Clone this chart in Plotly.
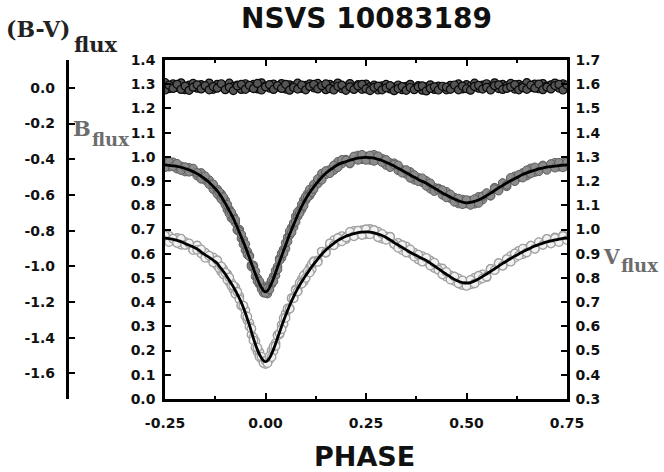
import plotly.graph_objects as go

# ---------------- data ----------------
phase = [-0.25, -0.24, -0.23, -0.22, -0.21, -0.20, -0.19, -0.18, -0.17, -0.16, -0.15, -0.14, -0.13, -0.12,
         -0.115, -0.11, -0.105, -0.10, -0.095, -0.09, -0.085, -0.08, -0.075, -0.07, -0.065, -0.06, -0.055,
         -0.05, -0.045, -0.04, -0.035, -0.03, -0.025, -0.02, -0.015, -0.01, -0.005,
         0.0, 0.005, 0.01, 0.015, 0.02, 0.025, 0.03, 0.035, 0.04, 0.045, 0.05, 0.055, 0.06, 0.065, 0.07,
         0.075, 0.08, 0.085, 0.09, 0.095, 0.10, 0.105, 0.11, 0.115,
         0.12, 0.13, 0.14, 0.15, 0.16, 0.17, 0.18, 0.19, 0.20, 0.21, 0.22, 0.23, 0.24, 0.25, 0.26, 0.27,
         0.28, 0.29, 0.30, 0.31, 0.32, 0.33, 0.34, 0.35, 0.36, 0.37, 0.38, 0.39, 0.40, 0.41, 0.42, 0.43,
         0.44, 0.45, 0.46, 0.47, 0.48, 0.49, 0.50, 0.51, 0.52, 0.53, 0.54, 0.55, 0.56, 0.57, 0.58, 0.59,
         0.60, 0.61, 0.62, 0.63, 0.64, 0.65, 0.66, 0.67, 0.68, 0.69, 0.70, 0.71, 0.72, 0.73, 0.74, 0.75]

# B flux: fitted light curve and observations (left axis)
b_fit = [.967, .965, .963, .961, .957, .952, .946, .939, .930, .920, .908, .894, .878, .860,
         .848, .836, .822, .808, .793, .778, .762, .746, .727, .708, .688, .668, .648, .628, .606, .583,
         .560, .538, .516, .495, .476, .460, .447,
         .442, .447, .460, .478, .498, .521, .545, .568, .590, .613, .635, .658, .680, .700, .720, .740,
         .760, .778, .795, .811, .826, .840, .853, .865,
         .876, .897, .916, .932, .945, .957, .967, .975, .980, .986, .991, .995, .997, .998, .997, .995,
         .990, .985, .978, .970, .962, .953, .944, .935, .925, .916, .907, .899, .891, .881, .871, .861,
         .851, .842, .834, .826, .819, .813, .810, .812, .816, .822, .830, .840, .850, .861, .872, .882,
         .892, .901, .910, .919, .927, .934, .940, .945, .950, .954, .958, .960, .962, .964, .966, .967]

b_obs = [.979, .959, .978, .951, .961, .939, .955, .941, .922, .934, .904, .904, .866, .866,
         .839, .847, .819, .821, .782, .783, .748, .754, .728, .701, .700, .663, .658, .615, .609, .592,
         .554, .552, .506, .499, .474, .471, .439,
         .449, .435, .473, .474, .507, .510, .547, .580, .583, .618, .621, .668, .677, .708, .710, .754,
         .754, .781, .783, .822, .821, .849, .840, .871,
         .886, .889, .931, .927, .947, .945, .980, .972, .989, .972, .997, 1.006, .990, 1.002, .987, 1.009,
         .988, .993, .966, .975, .974, .944, .947, .929, .938, .905, .914, .895, .901, .868, .873, .870,
         .843, .856, .829, .832, .807, .824, .807, .820, .806, .835, .823, .844, .839, .873, .866, .891,
         .878, .906, .920, .915, .934, .922, .953, .937, .953, .965, .949, .966, .976, .959, .976, .963]

b_obs2 = [.957, .979, .960, .972, .945, .958, .938, .952, .934, .909, .920, .887, .887, .847,
          .855, .826, .834, .802, .803, .766, .771, .741, .740, .697, .692, .679, .639, .640, .596, .589,
          .547, .546, .528, .486, .486, .454, .456,
          .438, .457, .452, .490, .486, .530, .535, .573, .602, .602, .645, .650, .693, .688, .727, .731,
          .772, .768, .803, .798, .836, .834, .865, .854,
          .867, .909, .905, .942, .932, .965, .957, .988, .985, .974, 1.002, .987, 1.009, .987, 1.006, .983,
          1.003, .978, .988, .957, .968, .965, .934, .946, .913, .925, .899, .912, .880, .891, .858, .866,
          .863, .832, .845, .814, .828, .804, .822, .801, .826, .809, .838, .851, .840, .867, .860, .892,
          .884, .914, .899, .926, .914, .945, .931, .957, .940, .962, .946, .971, .955, .976, .956, .976]

# V flux: fitted light curve and observations (right axis)
v_fit = [.965, .962, .959, .955, .950, .942, .935, .928, .920, .907, .895, .885, .873, .860,
         .848, .838, .827, .816, .803, .790, .777, .763, .748, .732, .716, .698, .677, .655, .630, .605,
         .578, .550, .525, .503, .484, .469, .458,
         .454, .458, .469, .485, .505, .528, .552, .576, .600, .623, .645, .666, .686, .705, .723, .740,
         .756, .770, .784, .797, .810, .822, .834, .846,
         .857, .878, .898, .915, .930, .943, .955, .964, .972, .978, .983, .987, .989, .990, .989, .986,
         .981, .975, .967, .957, .946, .936, .926, .916, .906, .897, .888, .880, .872, .861, .850, .838,
         .826, .815, .804, .794, .786, .781, .779, .781, .787, .796, .806, .816, .827, .838, .849, .860,
         .870, .880, .890, .899, .908, .916, .924, .932, .938, .944, .949, .953, .957, .960, .963, .965]

v_obs = [.957, .974, .955, .965, .937, .949, .937, .917, .934, .901, .904, .882, .885, .851,
         .853, .826, .837, .812, .816, .783, .780, .753, .762, .730, .724, .685, .683, .666, .625, .614,
         .566, .554, .538, .495, .494, .466, .464,
         .444, .469, .464, .499, .498, .530, .564, .567, .606, .610, .653, .669, .675, .715, .719, .753,
         .748, .775, .795, .785, .817, .820, .843, .836,
         .869, .872, .908, .904, .934, .956, .948, .973, .960, .984, .994, .983, .997, .980, 1.002, .983,
         .991, .962, .972, .969, .940, .945, .915, .930, .902, .904, .876, .890, .867, .872, .841, .842,
         .839, .805, .810, .787, .798, .770, .782, .773, .801, .791, .815, .803, .837, .835, .861, .851,
         .875, .891, .883, .912, .898, .920, .933, .920, .945, .940, .961, .944, .967, .954, .976, .962]

v_obs2 = [.975, .948, .962, .944, .962, .936, .943, .915, .916, .918, .883, .892, .864, .873,
          .841, .848, .815, .822, .793, .802, .768, .768, .735, .743, .712, .687, .686, .643, .640, .599,
          .591, .542, .513, .512, .474, .475, .449,
          .458, .448, .477, .473, .517, .519, .562, .571, .588, .634, .635, .674, .673, .717, .716, .749,
          .744, .780, .776, .810, .800, .828, .822, .857,
          .866, .866, .909, .905, .943, .935, .965, .951, .967, .990, .972, .995, .977, 1.001, .980, .998,
          .968, .982, .957, .970, .940, .924, .936, .905, .918, .888, .896, .867, .883, .851, .863, .833,
          .814, .825, .793, .806, .777, .790, .767, .792, .777, .809, .798, .805, .837, .832, .861, .850,
          .878, .867, .901, .892, .921, .905, .933, .920, .948, .936, .961, .942, .964, .948, .973, .956]

# (B-V) flux colour index (far-left axis), two overlapping measurement rows
bv_phase = [-0.25, -0.24, -0.23, -0.22, -0.21, -0.20, -0.19, -0.18, -0.17, -0.16,
            -0.15, -0.14, -0.13, -0.12, -0.11, -0.10, -0.09, -0.08, -0.07, -0.06,
            -0.05, -0.04, -0.03, -0.02, -0.01, 0.00, 0.01, 0.02, 0.03, 0.04,
            0.05, 0.06, 0.07, 0.08, 0.09, 0.10, 0.11, 0.12, 0.13, 0.14,
            0.15, 0.16, 0.17, 0.18, 0.19, 0.20, 0.21, 0.22, 0.23, 0.24,
            0.25, 0.26, 0.27, 0.28, 0.29, 0.30, 0.31, 0.32, 0.33, 0.34,
            0.35, 0.36, 0.37, 0.38, 0.39, 0.40, 0.41, 0.42, 0.43, 0.44,
            0.45, 0.46, 0.47, 0.48, 0.49, 0.50, 0.51, 0.52, 0.53, 0.54,
            0.55, 0.56, 0.57, 0.58, 0.59, 0.60, 0.61, 0.62, 0.63, 0.64,
            0.65, 0.66, 0.67, 0.68, 0.69, 0.70, 0.71, 0.72, 0.73, 0.74, 0.75]
bv_a = [0.030, -0.005, 0.022, 0.002, 0.028, -0.010, 0.015, 0.025, -0.002, 0.018,
        0.006, 0.027, -0.008, 0.020, 0.012, -0.004, 0.026, 0.008, 0.016, -0.009,
        0.023, 0.003, 0.019, -0.006, 0.028, 0.010, -0.001, 0.021, 0.005, 0.024,
        -0.007, 0.017, 0.011, 0.026, -0.003, 0.014, 0.022, 0.000, 0.025, 0.007,
        -0.010, 0.020, 0.013, 0.027, -0.005, 0.009, 0.024, 0.002, 0.018, -0.008,
        0.021, 0.006, 0.015, -0.012, 0.011, 0.019, -0.006, 0.004, 0.016, -0.010,
        0.008, 0.020, -0.004, 0.012, -0.013, 0.006, 0.017, -0.009, 0.010, 0.001,
        -0.011, 0.014, 0.004, 0.022, -0.006, 0.018, 0.009, 0.026, -0.002, 0.015,
        0.023, 0.005, 0.028, -0.004, 0.019, 0.011, 0.025, -0.007, 0.020, 0.013,
        0.029, 0.002, 0.021, -0.005, 0.024, 0.010, 0.017, 0.027, -0.001, 0.022, 0.008]
bv_b = [-0.012, 0.015, -0.003, 0.020, -0.009, 0.010, -0.014, 0.004, 0.017, -0.006,
        0.012, -0.011, 0.007, -0.002, 0.023, -0.010, 0.003, -0.015, 0.011, 0.019,
        -0.008, 0.014, -0.004, 0.025, -0.012, 0.006, 0.018, -0.009, 0.013, -0.003,
        0.020, -0.013, 0.002, -0.007, 0.016, -0.011, 0.008, 0.019, -0.006, 0.012,
        0.022, -0.004, -0.012, 0.009, 0.015, -0.014, 0.005, -0.009, 0.011, 0.020,
        -0.006, -0.015, 0.003, 0.010, -0.011, 0.000, 0.012, -0.016, -0.004, 0.007,
        -0.014, 0.002, -0.010, 0.005, 0.011, -0.017, -0.003, 0.006, -0.012, 0.009,
        0.004, -0.008, 0.016, -0.011, 0.010, -0.005, -0.013, 0.008, 0.014, -0.007,
        0.003, -0.012, 0.012, 0.017, -0.009, -0.003, 0.006, 0.018, -0.011, 0.001,
        -0.008, 0.015, -0.002, 0.021, -0.010, 0.004, -0.006, 0.013, 0.019, -0.012, 0.016]

x_tickvals = [-0.25, 0.0, 0.25, 0.50, 0.75]
x_ticktext = ["-0.25", "0.00", "0.25", "0.50", "0.75"]
bv_tickvals = [0.0, -0.2, -0.4, -0.6, -0.8, -1.0, -1.2, -1.4, -1.6]
bv_ticktext = ["0.0", "-0.2", "-0.4", "-0.6", "-0.8", "-1.0", "-1.2", "-1.4", "-1.6"]

assert len(phase) == len(b_fit) == len(b_obs) == len(b_obs2) == len(v_fit) == len(v_obs) == len(v_obs2), \
    (len(phase), len(b_fit), len(b_obs), len(b_obs2), len(v_fit), len(v_obs), len(v_obs2))
assert len(bv_phase) == len(bv_a) == len(bv_b), (len(bv_phase), len(bv_a), len(bv_b))

# ---------------- figure ----------------
W, H = 664, 472
ML, MR, MT, MB = 60, 97, 60, 73
PW, PH = W - ML - MR, H - MT - MB


def px(x):
    return (x - ML) / PW


def py(y):
    return (H - MB - y) / PH


SANS = "DejaVu Sans"
SERIF = "DejaVu Serif"
tickfont = dict(family=SANS, size=14, color="#111111", weight="bold")

fig = go.Figure()

fig.add_trace(go.Scatter(
    x=bv_phase + bv_phase, y=bv_a + bv_b, yaxis="y3", mode="markers",
    marker=dict(size=8, color="#555555", line=dict(color="#0a0a0a", width=1.2)),
    showlegend=False, hoverinfo="skip"))

fig.add_trace(go.Scatter(
    x=phase + phase, y=b_obs + b_obs2, yaxis="y", mode="markers",
    marker=dict(size=8.5, color="#8c8c8c", line=dict(color="#5e5e5e", width=1)),
    showlegend=False, hoverinfo="skip"))

fig.add_trace(go.Scatter(
    x=phase + phase, y=v_obs + v_obs2, yaxis="y2", mode="markers",
    marker=dict(size=8.5, color="#f2f2f2", line=dict(color="#a0a0a0", width=1.3)),
    showlegend=False, hoverinfo="skip"))

fig.add_trace(go.Scatter(
    x=phase, y=b_fit, yaxis="y", mode="lines",
    line=dict(color="#000000", width=2.8, shape="spline", smoothing=0.6),
    showlegend=False, hoverinfo="skip"))

fig.add_trace(go.Scatter(
    x=phase, y=v_fit, yaxis="y2", mode="lines",
    line=dict(color="#000000", width=2.8, shape="spline", smoothing=0.6),
    showlegend=False, hoverinfo="skip"))

axis_common = dict(showgrid=False, zeroline=False, showline=True, linecolor="#000000",
                   ticks="inside", tickcolor="#000000", tickwidth=2, tickfont=tickfont)

fig.update_layout(
    width=W, height=H,
    margin=dict(l=ML, r=MR, t=MT, b=MB),
    paper_bgcolor="white", plot_bgcolor="white",
    xaxis=dict(domain=[px(165), 1.0], range=[-0.25, 0.75], tickmode="array",
               tickvals=x_tickvals, ticktext=x_ticktext, ticklen=6, linewidth=2.5,
               mirror="ticks", ticklabelstandoff=9,
               minor=dict(ticks="inside", ticklen=3, tickwidth=1.5, tickcolor="#000000",
                          tick0=-0.25, dtick=0.125),
               **axis_common),
    yaxis=dict(range=[0.0, 1.4], tick0=0.0, dtick=0.1, tickformat=".1f", ticklen=6,
               linewidth=2.5, anchor="x", ticklabelstandoff=4, **axis_common),
    yaxis2=dict(range=[0.3, 1.7], tick0=0.3, dtick=0.1, tickformat=".1f", ticklen=6,
                linewidth=2.5, overlaying="y", side="right", anchor="x", ticklabelstandoff=3,
                **axis_common),
    yaxis3=dict(range=[-1.743, 0.156], tickmode="array", tickvals=bv_tickvals,
                ticktext=bv_ticktext, ticklen=6, linewidth=3.2, overlaying="y", side="left",
                anchor="free", position=px(67), ticklabelstandoff=8, **axis_common),
)

ann = [
    dict(text="NSVS 10083189", x=px(366), y=py(18), xanchor="center", yanchor="middle",
         font=dict(family=SANS, size=28, color="#111111", weight="bold")),
    dict(text="(B-V)", x=px(72), y=py(29), xanchor="right", yanchor="middle",
         font=dict(family=SERIF, size=22, color="#222222", weight="bold")),
    dict(text="flux", x=px(72), y=py(45), xanchor="left", yanchor="middle",
         font=dict(family=SERIF, size=21, color="#222222", weight="bold")),
    dict(text="B", x=px(71), y=py(128), xanchor="left", yanchor="middle",
         font=dict(family=SERIF, size=21, color="#6c6c6c", weight="bold")),
    dict(text="flux", x=px(90), y=py(139), xanchor="left", yanchor="middle",
         font=dict(family=SERIF, size=18, color="#6c6c6c", weight="bold")),
    dict(text="V", x=px(601), y=py(257), xanchor="left", yanchor="middle",
         font=dict(family=SERIF, size=20, color="#6c6c6c", weight="bold")),
    dict(text="flux", x=px(619), y=py(265), xanchor="left", yanchor="middle",
         font=dict(family=SERIF, size=18, color="#6c6c6c", weight="bold")),
    dict(text="PHASE", x=px(364), y=py(456), xanchor="center", yanchor="middle",
         font=dict(family=SANS, size=27, color="#111111", weight="bold")),
]
for a in ann:
    a.update(xref="paper", yref="paper", showarrow=False)
fig.update_layout(annotations=ann)

fig.write_html("out.html")
